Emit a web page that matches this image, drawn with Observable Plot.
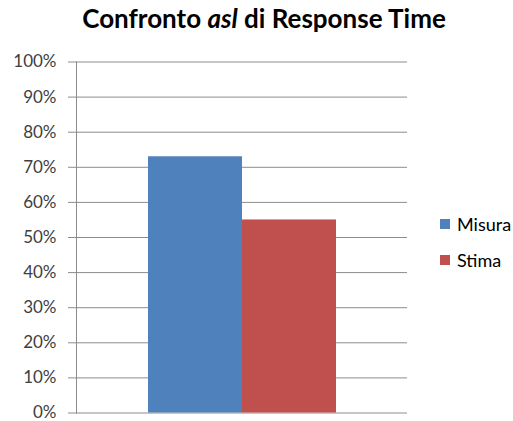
<!DOCTYPE html>
<html>
<head>
<meta charset="utf-8">
<script src="https://cdn.jsdelivr.net/npm/d3@7"></script>
<script src="https://cdn.jsdelivr.net/npm/@observablehq/plot@0.6"></script>
<style>
  html, body { margin: 0; padding: 0; background: #fff; }
  #wrap { position: relative; width: 513px; height: 421px; font-family: Lato, "Open Sans", sans-serif; }
  #title { position: absolute; left: 0; top: 2px; width: 528px; text-align: center; font-size: 26px; font-weight: bold; color: #000; }
  #chart { position: absolute; left: 0; top: 50px; }
  #legend { position: absolute; left: 440px; top: 206px; font-size: 18px; color: #000; }
  .item { display: flex; align-items: center; height: 36px; }
  .sw { width: 10px; height: 10px; margin-right: 7px; }
</style>
</head>
<body>
<div id="wrap">
  <div id="title">Confronto <i>asl</i> di Response Time</div>
  <div id="chart"></div>
  <div id="legend"></div>
</div>
<script>
// Series and values (percent)
const series = ["Misura", "Stima"];
const values = [73, 55];
const colors = ["#4F81BD", "#C0504D"];
const yTicks = [0, 10, 20, 30, 40, 50, 60, 70, 80, 90, 100];

const data = series.map((s, i) => ({series: s, value: values[i]}));

const chart = Plot.plot({
  width: 513,
  height: 371,
  marginTop: 11.5,
  marginBottom: 8.5,
  marginLeft: 76,
  marginRight: 106,
  style: {fontFamily: "Lato, 'Open Sans', sans-serif", fontSize: "17px", color: "#404040", background: "#fff"},
  x: {domain: series, paddingInner: 0, paddingOuter: 0.76, axis: null},
  y: {domain: [0, 100], ticks: yTicks, tickFormat: d => `${d}%`, tickSize: 0, tickPadding: 20, label: null},
  color: {domain: series, range: colors},
  marks: [
    Plot.ruleY(yTicks, {stroke: "#8c8c8c", strokeWidth: 1, insetLeft: -8}),
    Plot.barY(data, {x: "series", y: "value", fill: "series"}),
    Plot.frame({anchor: "left", stroke: "#8c8c8c"})
  ]
});
document.getElementById("chart").appendChild(chart);

// Legend
const legend = document.getElementById("legend");
series.forEach((s, i) => {
  const row = document.createElement("div");
  row.className = "item";
  const sw = document.createElement("span");
  sw.className = "sw";
  sw.style.background = colors[i];
  const lab = document.createElement("span");
  lab.textContent = s;
  row.appendChild(sw);
  row.appendChild(lab);
  legend.appendChild(row);
});
</script>
</body>
</html>
